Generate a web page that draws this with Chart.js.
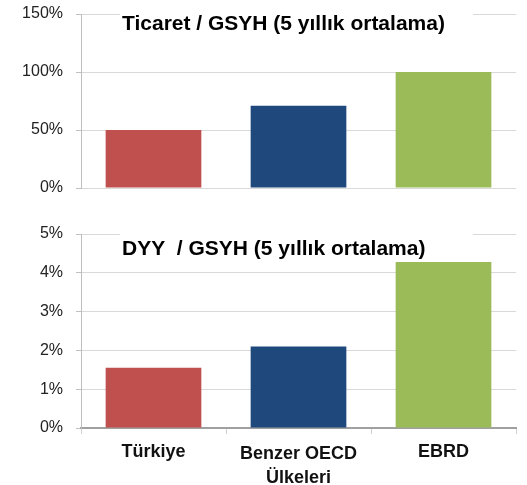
<!DOCTYPE html>
<html>
<head>
<meta charset="utf-8">
<script src="https://cdn.jsdelivr.net/npm/chart.js@4/dist/chart.umd.min.js"></script>
<style>
  html, body { margin: 0; padding: 0; background: #fff; }
  #wrap { position: relative; width: 527px; height: 485px; }
  canvas { position: absolute; left: 0; }
  #trade { top: 0; }
  #fdi { top: 200px; }
</style>
</head>
<body>
<div id="wrap">
  <canvas id="trade" width="527" height="200"></canvas>
  <canvas id="fdi" width="527" height="285"></canvas>
</div>
<script>
'use strict';

var categories = [['Türkiye'], ['Benzer OECD', 'Ülkeleri'], ['EBRD']];
var barColors = ['#C0504D', '#1F497D', '#9BBB59'];

var tradeTitle = 'Ticaret / GSYH (5 yıllık ortalama)';
var tradeValues = [50, 71, 100];
var tradeTicks = [0, 50, 100, 150];

var fdiTitle = 'DYY  / GSYH (5 yıllık ortalama)';
var fdiValues = [1.55, 2.1, 4.28];
var fdiTicks = [0, 1, 2, 3, 4, 5];

// title sits inside the plot, on a white box over the top gridline
var overlayTitle = {
  id: 'overlayTitle',
  afterDatasetsDraw: function (chart, args, opts) {
    var ctx = chart.ctx;
    var area = chart.chartArea;
    ctx.save();
    ctx.fillStyle = '#fff';
    ctx.fillRect(area.left + 39, area.top - 2, 353, opts.boxHeight);
    ctx.fillStyle = '#000';
    ctx.font = 'bold 21px "Liberation Sans", Arial, sans-serif';
    ctx.textAlign = 'left';
    ctx.textBaseline = 'alphabetic';
    ctx.fillText(opts.text, area.left + 41, area.top + opts.dy);
    ctx.restore();
  }
};

function yAxis(ticks) {
  return {
    min: ticks[0],
    max: ticks[ticks.length - 1],
    afterFit: function (scale) {
      scale.width = 81;
      // let layout.padding alone decide the plot's top and bottom
      scale.paddingTop = 0;
      scale.paddingBottom = 0;
    },
    afterBuildTicks: function (scale) {
      scale.ticks = ticks.map(function (v) { return { value: v }; });
    },
    border: { color: '#bfbfbf', width: 1 },
    grid: { color: '#d9d9d9', tickColor: '#bfbfbf', tickLength: 5, lineWidth: 1 },
    ticks: {
      padding: 13,
      color: '#222',
      font: { family: '"Liberation Sans", Arial, sans-serif', size: 16 },
      callback: function (v) { return v + '%'; }
    }
  };
}

function barData(values) {
  return {
    labels: categories,
    datasets: [{
      data: values,
      backgroundColor: barColors,
      borderWidth: 0,
      categoryPercentage: 1,
      barPercentage: 0.66
    }]
  };
}

new Chart(document.getElementById('trade').getContext('2d'), {
  type: 'bar',
  data: barData(tradeValues),
  plugins: [overlayTitle],
  options: {
    responsive: false,
    animation: false,
    devicePixelRatio: 1,
    layout: { padding: { top: 14, right: 11, bottom: 12, left: 0 } },
    plugins: {
      legend: { display: false },
      tooltip: { enabled: false },
      overlayTitle: { text: tradeTitle, dy: 16, boxHeight: 26 }
    },
    scales: {
      x: { display: false },
      y: yAxis(tradeTicks)
    }
  }
});

new Chart(document.getElementById('fdi').getContext('2d'), {
  type: 'bar',
  data: barData(fdiValues),
  plugins: [overlayTitle],
  options: {
    responsive: false,
    animation: false,
    devicePixelRatio: 1,
    layout: { padding: { top: 34, right: 11, bottom: 0, left: 0 } },
    plugins: {
      legend: { display: false },
      tooltip: { enabled: false },
      overlayTitle: { text: fdiTitle, dy: 20.5, boxHeight: 26 }
    },
    scales: {
      x: {
        afterFit: function (scale) { scale.height = 57; },
        border: { color: '#a0a0a0', width: 2 },
        grid: { offset: true, drawOnChartArea: false, tickColor: '#d0d0d0', tickLength: 6 },
        ticks: {
          padding: 8,
          color: '#111',
          maxRotation: 0,
          autoSkip: false,
          font: function (ctx) {
            return {
              family: '"Liberation Sans", Arial, sans-serif',
              size: 18,
              weight: 'bold',
              lineHeight: ctx.index === 1 ? 1.35 : 1.08
            };
          }
        }
      },
      y: yAxis(fdiTicks)
    }
  }
});
</script>
</body>
</html>
